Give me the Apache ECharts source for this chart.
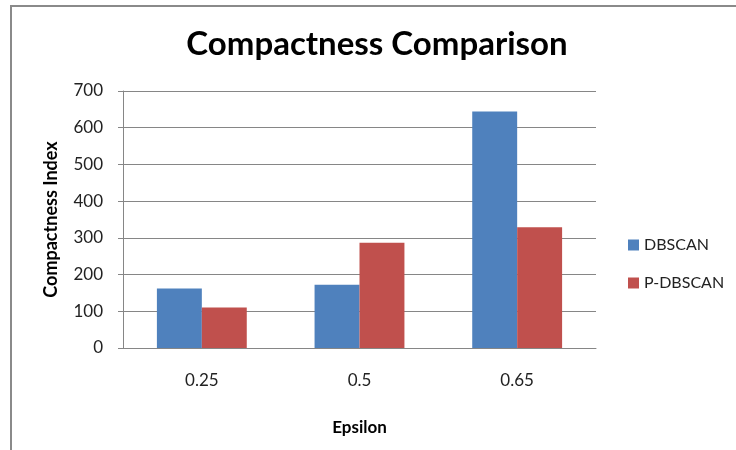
<!DOCTYPE html>
<html>
<head>
<meta charset="utf-8">
<script src="https://cdn.jsdelivr.net/npm/echarts@6/dist/echarts.min.js"></script>
<style>
  html, body { margin: 0; padding: 0; background: #fff; }
  #chart { width: 736px; height: 450px; }
</style>
</head>
<body>
<div id="chart"></div>
<script>
// Epsilon values on the category axis
const epsilon = ['0.25', '0.5', '0.65'];
// Compactness index per algorithm
const dbscan = [162, 172, 644];
const pDbscan = [110, 287, 329];
// Value axis ticks
const yMin = 0, yMax = 700, yStep = 100;

const FONT = 'Lato, "Open Sans", sans-serif';
const chart = echarts.init(document.getElementById('chart'), null, { renderer: 'canvas' });

chart.setOption({
  animation: false,
  backgroundColor: '#fff',
  textStyle: { fontFamily: FONT },
  title: {
    text: 'Compactness Comparison',
    left: 372,
    top: 23,
    textAlign: 'center',
    textStyle: { fontFamily: FONT, fontSize: 33, fontWeight: 'bold', color: '#000' }
  },
  legend: {
    orient: 'vertical',
    left: 623,
    top: 232,
    padding: 5,
    itemWidth: 11,
    itemHeight: 11,
    itemGap: 22,
    icon: 'rect',
    textStyle: { fontFamily: FONT, fontSize: 16, color: '#222' },
    data: ['DBSCAN', 'P-DBSCAN']
  },
  grid: { left: 123, right: 140, top: 91, bottom: 102, containLabel: false },
  xAxis: {
    type: 'category',
    data: epsilon,
    name: 'Epsilon',
    nameLocation: 'middle',
    nameGap: 71,
    nameTextStyle: { fontFamily: FONT, fontSize: 17, fontWeight: 'bold', color: '#000' },
    axisLine: { show: true, lineStyle: { color: '#868686', width: 1 } },
    axisTick: { show: false },
    axisLabel: { fontSize: 17, color: '#222', margin: 24 }
  },
  yAxis: {
    type: 'value',
    min: yMin,
    max: yMax,
    interval: yStep,
    name: 'Compactness Index',
    nameLocation: 'middle',
    nameRotate: 90,
    nameGap: 63,
    nameTextStyle: { fontFamily: FONT, fontSize: 18, fontWeight: 'bold', color: '#000' },
    axisLine: { show: true, lineStyle: { color: '#868686', width: 1 } },
    axisTick: { show: true, length: 5, lineStyle: { color: '#868686' } },
    axisLabel: { fontSize: 17, color: '#222', margin: 20 },
    splitLine: { show: true, lineStyle: { color: '#868686', width: 1 } }
  },
  series: [
    {
      name: 'DBSCAN',
      type: 'bar',
      data: dbscan,
      itemStyle: { color: '#4F81BD' },
      barGap: '0%',
      barCategoryGap: '43%'
    },
    {
      name: 'P-DBSCAN',
      type: 'bar',
      data: pDbscan,
      itemStyle: { color: '#C0504D' },
      barGap: '0%',
      barCategoryGap: '43%'
    }
  ],
  graphic: [
    // chart-area frame: top and left edges
    {
      type: 'polyline',
      shape: { points: [[11, 450], [11, 6], [736, 6]] },
      style: { stroke: '#8a8a8a', lineWidth: 2, fill: null },
      silent: true
    }
  ]
});
</script>
</body>
</html>
